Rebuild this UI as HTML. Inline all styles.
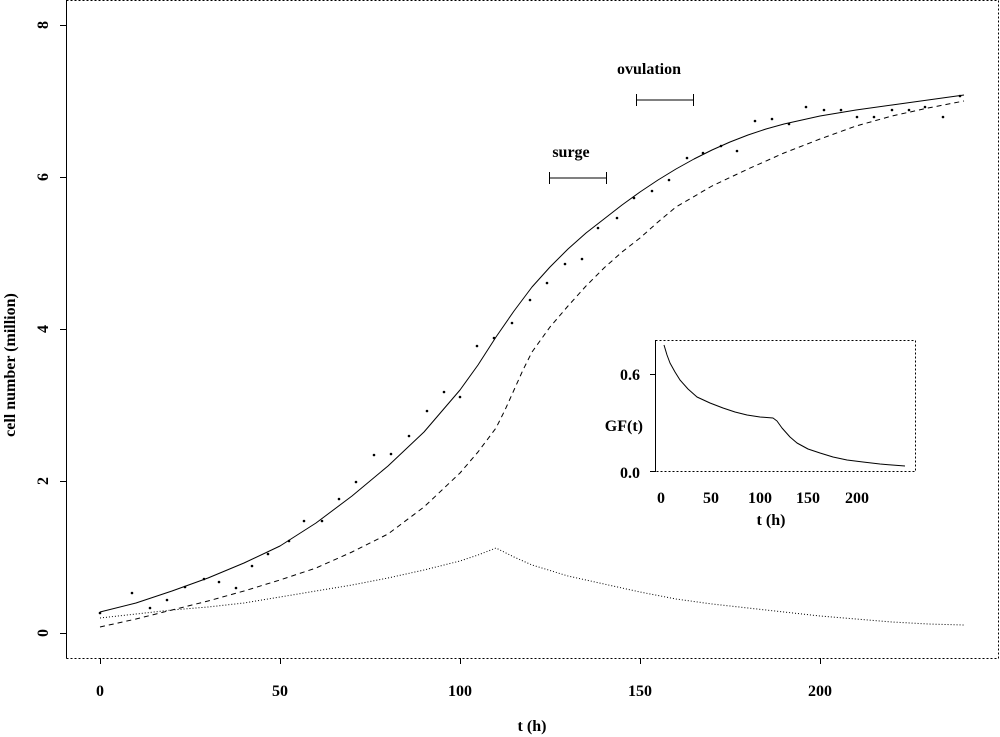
<!DOCTYPE html>
<html><head><style>body{margin:0;background:#fff}svg{display:block}text{font-family:"Liberation Serif",serif;fill:#000;font-weight:bold}</style></head><body>
<svg width="1000" height="737" viewBox="0 0 1000 737">
<g fill="none" stroke="#000" stroke-width="1" stroke-linejoin="round">
<path d="M66.5 0.5H998.5V658.5H66.5" stroke-dasharray="2,2"/>
<path d="M66.5 0V658.5"/>
<path d="M60 633.5h6M60 481.5h6M60 329.5h6M60 177.5h6M60 25.5h6"/>
<path d="M100.5 658v6M280.5 658v6M460.5 658v6M640.5 658v6M820.5 658v6"/>
<polyline points="100,612 136,603 172,591 208,578 244,563 280,546 316,523 352,496 388,466 424,432 460,390 478,365 496,337 514,311 532,287 550,267 568,249 586,233 604,219 622,205 640,192 658,180 676,169 694,159 712,150 730,142 748,135 766,129 784,124 802,120 820,116 856,110 892,105 928,100 964,95"/>
<polyline stroke-dasharray="5,4" points="100,627 136,619 172,610 208,601 244,591 280,580 316,568 352,552 388,534 424,507 460,473 478,452 496,428 505,410 514,390 523,370 532,352 550,327 568,306 586,286 604,268 622,252 640,238 658,222 676,207 712,186 748,169 784,153 820,139 856,126 892,116 928,108 964,101"/>
<polyline stroke-dasharray="1,2" points="100,618 136,614 172,610 208,607 244,603 280,597 316,591 352,585 388,578 424,570 460,561 478,555 496,548 514,557 532,565 568,576 604,584 640,592 676,599 712,604 748,608 784,612 820,616 856,619 892,622 928,624 964,625"/>
<path d="M549 178h57M549.5 172v12M606.5 172v12M636 100h57M636.5 94v12M693.5 94v12"/>
<path d="M655.5 340.5H915.5V471.5H655.5" stroke-dasharray="2,2"/>
<path d="M655.5 340V472M650 374.5h5M650 471.5h5"/>
<polyline points="664,345 667,355 670,363 675,372 680,380 688,389 697,397 710,403 723,408 735,412 747,415 760,417 773,418 777,421 782,428 790,437 797,443 808,449 820,453 833,457 847,460 863,462 880,464 892,465 905,466"/>
</g>
<g fill="#000">
<circle cx="100" cy="613" r="1.3"/><circle cx="132" cy="593" r="1.3"/><circle cx="150" cy="608" r="1.3"/><circle cx="167" cy="600" r="1.3"/><circle cx="185" cy="587" r="1.3"/><circle cx="204" cy="579" r="1.3"/><circle cx="219" cy="582" r="1.3"/><circle cx="236" cy="588" r="1.3"/><circle cx="252" cy="566" r="1.3"/><circle cx="268" cy="554" r="1.3"/><circle cx="289" cy="541" r="1.3"/><circle cx="304" cy="521" r="1.3"/><circle cx="322" cy="521" r="1.3"/><circle cx="339" cy="499" r="1.3"/><circle cx="356" cy="482" r="1.3"/><circle cx="374" cy="455" r="1.3"/><circle cx="391" cy="454" r="1.3"/><circle cx="409" cy="436" r="1.3"/><circle cx="427" cy="411" r="1.3"/><circle cx="444" cy="392" r="1.3"/><circle cx="460" cy="397" r="1.3"/><circle cx="477" cy="346" r="1.3"/><circle cx="494" cy="338" r="1.3"/><circle cx="512" cy="323" r="1.3"/><circle cx="530" cy="300" r="1.3"/><circle cx="547" cy="283" r="1.3"/><circle cx="565" cy="264" r="1.3"/><circle cx="582" cy="259" r="1.3"/><circle cx="598" cy="228" r="1.3"/><circle cx="617" cy="218" r="1.3"/><circle cx="634" cy="198" r="1.3"/><circle cx="652" cy="191" r="1.3"/><circle cx="669" cy="180" r="1.3"/><circle cx="687" cy="158" r="1.3"/><circle cx="703" cy="153" r="1.3"/><circle cx="721" cy="146" r="1.3"/><circle cx="737" cy="151" r="1.3"/><circle cx="755" cy="121" r="1.3"/><circle cx="772" cy="119" r="1.3"/><circle cx="789" cy="124" r="1.3"/><circle cx="806" cy="107" r="1.3"/><circle cx="824" cy="110" r="1.3"/><circle cx="841" cy="110" r="1.3"/><circle cx="857" cy="117" r="1.3"/><circle cx="874" cy="117" r="1.3"/><circle cx="892" cy="110" r="1.3"/><circle cx="909" cy="110" r="1.3"/><circle cx="925" cy="107" r="1.3"/><circle cx="943" cy="117" r="1.3"/><circle cx="960" cy="96" r="1.3"/>
</g>
<g font-size="16" text-anchor="middle">
<text x="100" y="696">0</text><text x="280" y="696">50</text><text x="460" y="696">100</text><text x="640" y="696">150</text><text x="820" y="696">200</text>
<text x="532" y="731">t (h)</text>
<text transform="translate(48,633) rotate(-90)">0</text>
<text transform="translate(48,481) rotate(-90)">2</text>
<text transform="translate(48,329) rotate(-90)">4</text>
<text transform="translate(48,177) rotate(-90)">6</text>
<text transform="translate(48,25) rotate(-90)">8</text>
<text transform="translate(15,365) rotate(-90)">cell number (million)</text>
<text x="571" y="157">surge</text>
<text x="649" y="74">ovulation</text>
<text x="661" y="503">0</text><text x="711" y="503">50</text><text x="760" y="503">100</text><text x="808" y="503">150</text><text x="857" y="503">200</text>
<text x="771" y="525">t (h)</text>
</g>
<g font-size="16" text-anchor="end">
<text x="640" y="380">0.6</text><text x="640" y="478">0.0</text><text x="643" y="431">GF(t)</text>
</g>
</svg>
</body></html>
